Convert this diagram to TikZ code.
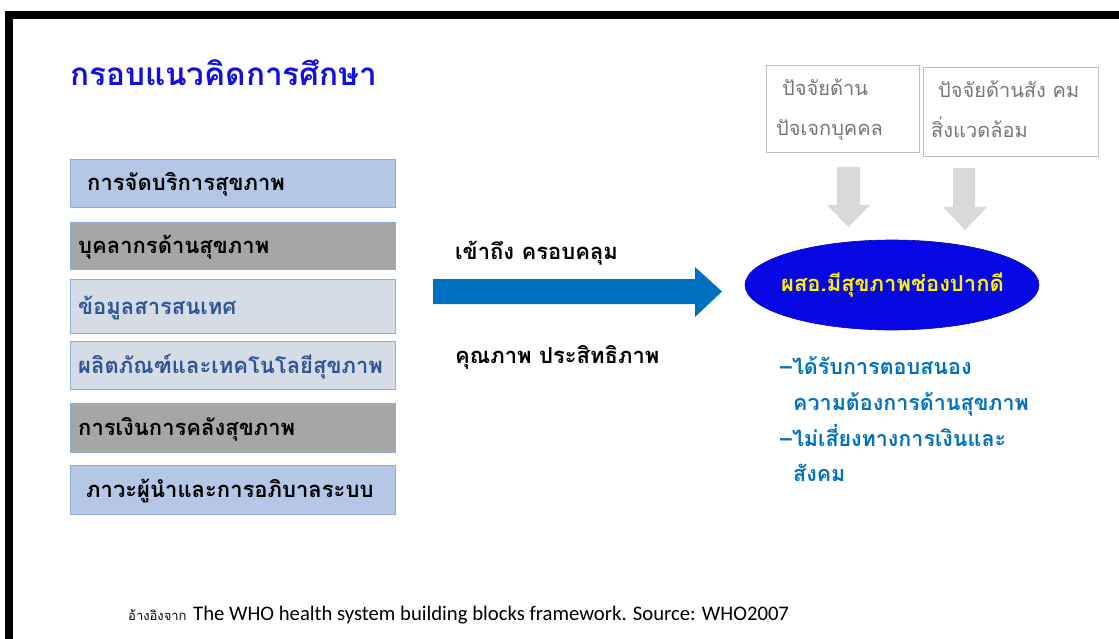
\documentclass[tikz,border=0pt]{standalone}
\usepackage{fontspec}
\setmainfont{Carlito}
\newfontfamily\thai[Script=Thai]{Loma}
\usetikzlibrary{shapes.geometric}
\definecolor{titleblue}{RGB}{16,16,224}
\definecolor{lblue}{RGB}{180,199,231}
\definecolor{bordblue}{RGB}{143,170,220}
\definecolor{midgray}{RGB}{166,166,166}
\definecolor{pale}{RGB}{214,220,229}
\definecolor{txtblue}{RGB}{47,85,151}
\definecolor{arrblue}{RGB}{0,112,192}
\definecolor{ellblue}{RGB}{8,8,230}
\definecolor{factgray}{RGB}{191,191,191}
\definecolor{facttxt}{RGB}{118,118,118}
\definecolor{downgray}{RGB}{217,217,217}
\begin{document}
\begin{tikzpicture}[x=1pt,y=-1pt,
  blk/.style={draw=bordblue, line width=1.2pt, minimum width=325pt, inner sep=0pt, anchor=north west},
  blktxt/.style={anchor=base west, inner sep=0pt, font=\thai\bfseries\fontsize{22}{26}\selectfont},
  fact/.style={draw=factgray, line width=1pt, inner sep=0pt, anchor=north west},
  facttext/.style={anchor=base west, inner sep=0pt, text=facttxt, font=\thai\fontsize{20}{24}\selectfont},
  bullet/.style={anchor=base west, inner sep=0pt, text=arrblue, font=\thai\bfseries\fontsize{21.5}{25}\selectfont}
]
\useasboundingbox (0,0) rectangle (1119,639);
% frame
\fill[black] (5,11) rectangle (1119,19);
\fill[black] (5,11) rectangle (13,639);
% title
\node[anchor=base west, inner sep=0pt, text=titleblue, font=\thai\bfseries\fontsize{31.5}{36}\selectfont] (title) at (70,86) {กรอบแนวคิดการศึกษา};
% building blocks
\node[blk, fill=lblue, minimum height=48pt] (b1) at (70,159) {};
\node[blk, fill=midgray, minimum height=47pt] (b2) at (70,222) {};
\node[blk, fill=pale, minimum height=54pt] (b3) at (70,279) {};
\node[blk, fill=pale, minimum height=48pt] (b4) at (70,341) {};
\node[blk, fill=midgray, minimum height=49pt] (b5) at (70,403) {};
\node[blk, fill=lblue, minimum height=49pt] (b6) at (70,465) {};
\node[blktxt] (t1) at (87,191) {การจัดบริการสุขภาพ};
\node[blktxt] (t2) at (78,253) {บุคลากรด้านสุขภาพ};
\node[blktxt, text=txtblue] (t3) at (78,314) {ข้อมูลสารสนเทศ};
\node[blktxt, text=txtblue] (t4) at (78,373) {ผลิตภัณฑ์และเทคโนโลยีสุขภาพ};
\node[blktxt] (t5) at (78,435) {การเงินการคลังสุขภาพ};
\node[blktxt] (t6) at (86,497) {ภาวะผู้นำและการอภิบาลระบบ};
% main arrow
\coordinate (ms) at (433,291.5);
\coordinate (me) at (722,291.5);
\fill[arrblue] ([yshift=12.5pt]ms) -- (695,279) -- (695,267) -- (me) -- (695,317) -- (695,304) -- ([yshift=-12.5pt]ms) -- cycle;
\node[blktxt] (l1) at (455,259) {เข้าถึง ครอบคลุม};
\node[blktxt] (l2) at (455,363) {คุณภาพ ประสิทธิภาพ};
% outcome
\node[ellipse, fill=ellblue, draw=ellblue!80!black, line width=0.6pt, minimum width=294pt, minimum height=90pt, inner sep=0pt] (goal) at (892,285) {};
\node[anchor=base, inner sep=0pt, text=yellow, font=\thai\bfseries\fontsize{22}{26}\selectfont] (goaltxt) at (892.5,291) {ผสอ.มีสุขภาพช่องปากดี};
\node[bullet] (r1) at (780,374) {–ได้รับการตอบสนอง};
\node[bullet] (r2) at (793,410) {ความต้องการด้านสุขภาพ};
\node[bullet] (r3) at (780,446) {–ไม่เสี่ยงทางการเงินและ};
\node[bullet] (r4) at (793,481) {สังคม};
% factors
\node[fact, minimum width=153pt, minimum height=87pt] (fa) at (766,65) {};
\node[fact, minimum width=175pt, minimum height=89pt] (fb) at (923,67) {};
\node[facttext] (fa1) at (782,96) {ปัจจัยด้าน};
\node[facttext] (fa2) at (776,136) {ปัจเจกบุคคล};
\node[facttext] (fb1) at (938,98) {ปัจจัยด้านสัง คม};
\node[facttext] (fb2) at (931,138) {สิ่งแวดล้อม};
% down arrows
\fill[downgray] (837,167) -- (860,167) -- (860,205) -- (870,205) -- (848.5,227) -- (827,205) -- (837,205) -- cycle;
\fill[downgray] (953,168) -- (975,168) -- (975,207) -- (987,207) -- (965,230) -- (943,207) -- (953,207) -- cycle;
% footnote
\node[anchor=base west, inner sep=0pt, font=\thai\fontsize{13}{15}\selectfont] (src1) at (128,620) {อ้างอิงจาก};
\node[anchor=base west, inner sep=0pt, font=\fontsize{20.7}{24}\selectfont] (src2) at (193,620) {The WHO health system building blocks framework. Source: WHO2007};
\end{tikzpicture}
\end{document}
